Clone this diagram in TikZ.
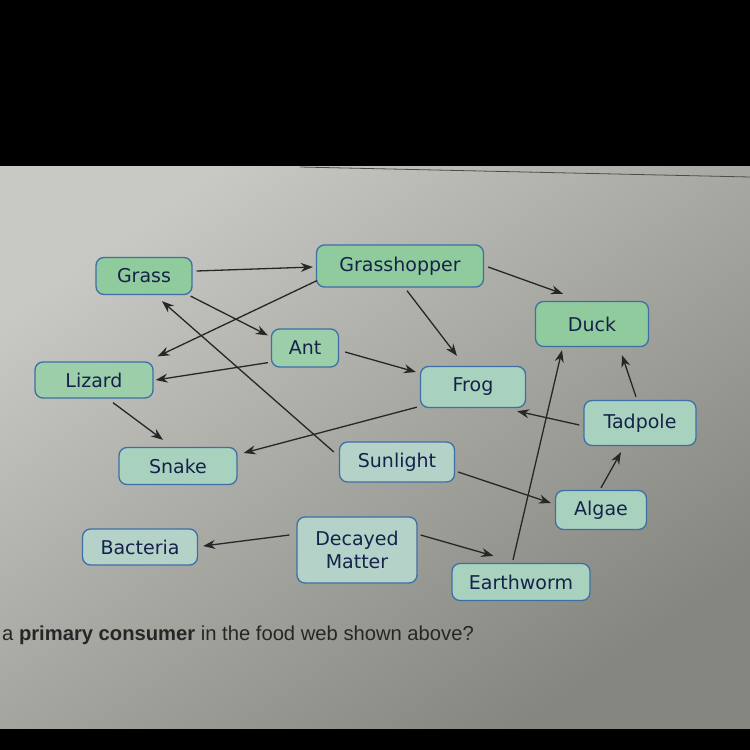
\documentclass[tikz,border=0pt]{standalone}
\usepackage{fontspec}
\setmainfont{DejaVu Sans}
\newfontfamily\qfont{Liberation Sans}
\usetikzlibrary{arrows.meta,calc}
\definecolor{scrtop}{HTML}{C8C8C4}
\definecolor{scrbot}{HTML}{85857F}
\definecolor{gA}{HTML}{8FCB9C}
\definecolor{gB}{HTML}{9CCEAA}
\definecolor{gC}{HTML}{A8D2BE}
\definecolor{gD}{HTML}{B4D2C8}
\definecolor{bord}{HTML}{3D6FA6}
\definecolor{txt}{HTML}{15224A}
\definecolor{arrc}{HTML}{262626}
\tikzset{
  fw/.style={draw=bord, line width=1.3pt, rounded corners=8pt, inner sep=0pt,
    text=txt, font=\fontsize{19}{23}\selectfont, align=center},
  arr/.style={draw=arrc, line width=1.3pt, -{Stealth[length=12pt,width=9pt]}}
}
\begin{document}
\begin{tikzpicture}[x=1pt,y=-1pt]
\useasboundingbox (0,0) rectangle (750,750);
\fill[black] (0,0) rectangle (750,750);
\shade[shading=axis, top color=scrtop, bottom color=scrbot, shading angle=35] (0,166) rectangle (750,728);
\draw[gray!60!black, line width=0.8pt] (300,167) -- (750,177);
% nodes
\node[fw, fill=gA, minimum width=96pt, minimum height=37pt] (grass) at (144,276) {Grass};
\node[fw, fill=gA, minimum width=167pt, minimum height=42pt] (gh) at (400,266) {Grasshopper};
\node[fw, fill=gA, minimum width=113pt, minimum height=45pt] (duck) at (592,324) {Duck};
\node[fw, fill=gB, minimum width=67pt, minimum height=38pt] (ant) at (305,348) {Ant};
\node[fw, fill=gB, minimum width=118pt, minimum height=36pt] (lizard) at (94,380) {Lizard};
\node[fw, fill=gC, minimum width=105pt, minimum height=41pt] (frog) at (473,387) {Frog};
\node[fw, fill=gC, minimum width=112pt, minimum height=45pt] (tadpole) at (640,423) {Tadpole};
\node[fw, fill=gC, minimum width=118pt, minimum height=37pt] (snake) at (178,466) {Snake};
\node[fw, fill=gD, minimum width=115pt, minimum height=40pt] (sun) at (397,462) {Sunlight};
\node[fw, fill=gC, minimum width=91pt, minimum height=39pt] (algae) at (601,510) {Algae};
\node[fw, fill=gD, minimum width=115pt, minimum height=36pt] (bact) at (140,547) {Bacteria};
\node[fw, fill=gD, minimum width=120pt, minimum height=66pt] (dm) at (357,550) {Decayed\\Matter};
\node[fw, fill=gC, minimum width=138pt, minimum height=37pt] (worm) at (521,582) {Earthworm};
% connectors
\draw[arr] ($(grass.east)+(4,-5)$) -- ($(gh.west)+(-3,1)$);
\draw[arr] ($(grass.south east)+(-2,1)$) -- ($(ant.north west)+(-3,7)$);
\draw[arr] ($(gh.east)+(4,1)$) -- ($(duck.north)+(-29,-7)$);
\draw[arr] ($(gh.south west)+(1,-7)$) -- ($(lizard.north east)+(4,-5)$);
\draw[arr] ($(gh.south)+(7,3)$) -- ($(frog.north)+(-16,-10)$);
\draw[arr] ($(ant.south west)+(-3,-5)$) -- ($(lizard.east)+(2,0)$);
\draw[arr] ($(ant.east)+(6,4)$) -- ($(frog.west)+(-4,-15)$);
\draw[arr] ($(sun.west)+(-5,-10)$) -- ($(grass.south)+(18,6)$);
\draw[arr] ($(lizard.south)+(19,4)$) -- ($(snake.north)+(-15,-7)$);
\draw[arr] ($(frog.south west)+(-3,-1)$) -- ($(snake.east)+(6,-13)$);
\draw[arr] ($(tadpole.west)+(-4,2)$) -- ($(frog.south east)+(-9,3)$);
\draw[arr] ($(tadpole.north)+(-4,-3)$) -- ($(duck.south)+(30,8)$);
\draw[arr] ($(algae.north)+(0,-2)$) -- ($(tadpole.south)+(-19,6)$);
\draw[arr] ($(sun.east)+(3,10)$) -- ($(algae.west)+(-4,-7)$);
\draw[arr] ($(worm.north)+(-8,-3)$) -- ($(duck.south)+(-30,3)$);
\draw[arr] ($(dm.west)+(-7,-15)$) -- ($(bact.east)+(5,-1)$);
\draw[arr] ($(dm.east)+(3,-15)$) -- ($(worm.north west)+(42,-7)$);
% question text
\node[anchor=base west, inner sep=0pt, text=black!85, font=\qfont\fontsize{20.2}{24}\selectfont] (q) at (2,640) {a \textbf{primary consumer} in the food web shown above?};
\end{tikzpicture}
\end{document}
